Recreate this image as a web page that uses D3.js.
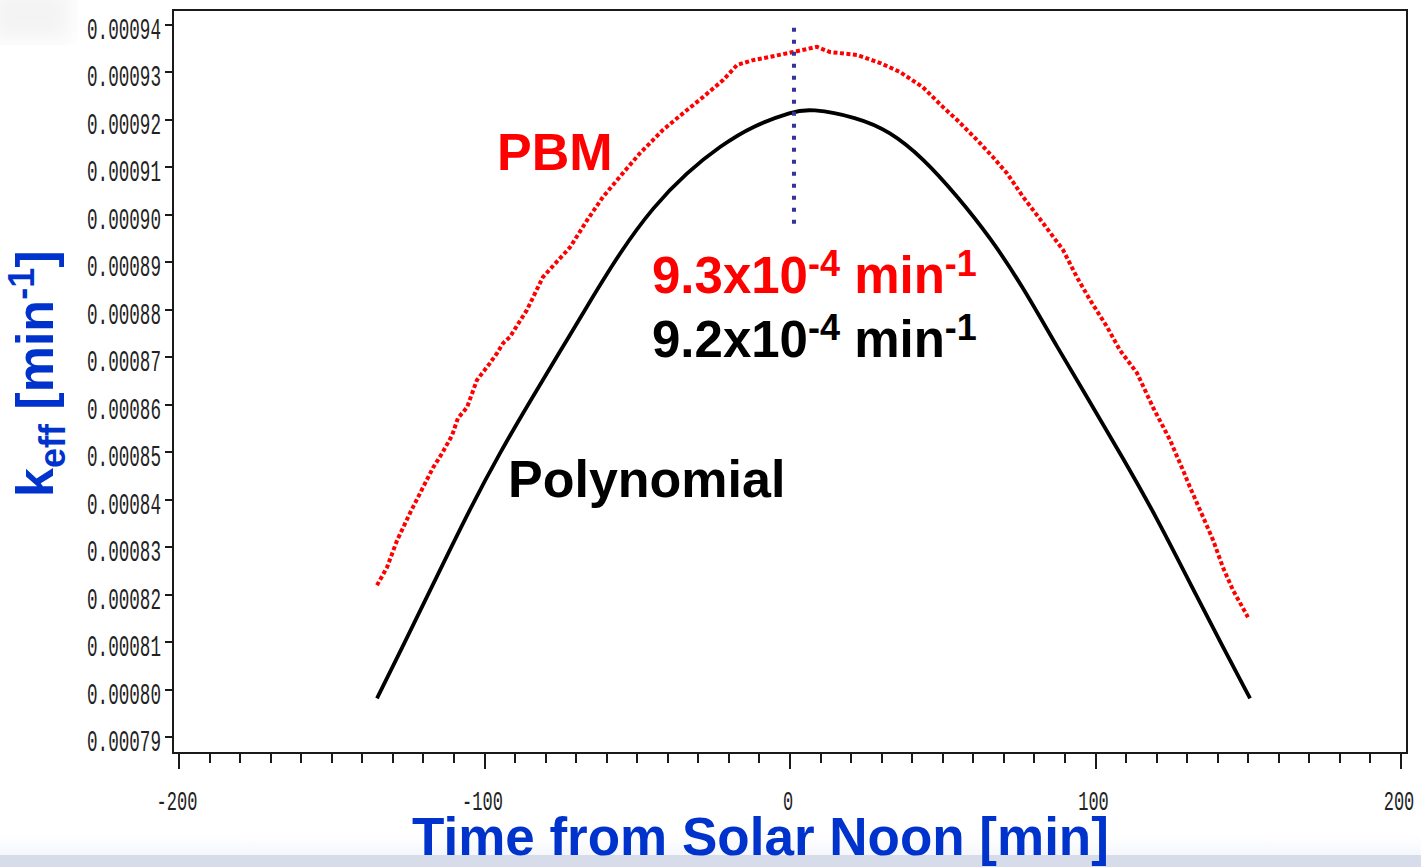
<!DOCTYPE html>
<html>
<head>
<meta charset="utf-8">
<script src="https://cdn.jsdelivr.net/npm/d3@7"></script>
<style>
  html, body { margin: 0; padding: 0; background: #ffffff; }
  svg { display: block; }
</style>
</head>
<body>
<div id="chart"></div>
<script>
// ---------------- DATA ----------------
const xTickValues = [-200, -100, 0, 100, 200];
const xTickLabels = ["-200", "-100", "0", "100", "200"];
const xMinorTicks = d3.range(-200, 201, 10);
const yTickValues = [0.00079, 0.00080, 0.00081, 0.00082, 0.00083, 0.00084, 0.00085, 0.00086,
                     0.00087, 0.00088, 0.00089, 0.00090, 0.00091, 0.00092, 0.00093, 0.00094];
const yTickLabels = ["0.00079", "0.00080", "0.00081", "0.00082", "0.00083", "0.00084", "0.00085", "0.00086",
                     "0.00087", "0.00088", "0.00089", "0.00090", "0.00091", "0.00092", "0.00093", "0.00094"];

// Polynomial fit (black line)
const polyTime = [-135.2, -126.7, -115.5, -104.7, -94.9, -85.1, -75.3, -66.4, -55.6, -44.8, -33.7,
                  -22.9, -12.1, 1.0, 6.5, 21.9, 32.7, 43.5, 54.7, 65.5, 76.3, 87.4, 98.2, 109.0,
                  120.1, 130.9, 141.7, 150.6];
const polyK = [0.0007982, 0.0008092, 0.0008240, 0.0008382, 0.0008500, 0.0008608, 0.0008712, 0.0008808,
               0.0008922, 0.0009017, 0.0009090, 0.0009145, 0.0009188, 0.0009218, 0.0009224, 0.0009206,
               0.0009176, 0.0009120, 0.0009040, 0.0008953, 0.0008848, 0.0008722, 0.0008606, 0.0008488,
               0.0008362, 0.0008225, 0.0008090, 0.0007982];

// PBM model (red dots)
const pbmTime = [-135.2, -131.9, -128.6, -124.4, -121.1, -116.9, -113.9, -110.6, -108.7, -105.7, -102.5,
                 -98.2, -95.9, -93.9, -91.7, -86.1, -80.9, -72.0, -66.4, -61.2, -54.7, -49.1, -41.6,
                 -33.7, -28.5, -21.9, -17.3, -12.1, -6.5, 1.0, 8.8, 13.1, 21.9, 29.5, 36.0, 43.5, 50.1,
                 54.7, 61.2, 66.4, 71.0, 76.3, 82.8, 89.4, 93.9, 98.2, 103.8, 108.0, 113.6, 118.8,
                 124.4, 128.6, 130.9, 135.2, 138.5, 141.7, 145.0, 149.9];
const pbmK = [0.0008220, 0.0008258, 0.0008315, 0.0008372, 0.0008414, 0.0008467, 0.0008498, 0.0008536,
              0.0008572, 0.0008595, 0.0008652, 0.0008688, 0.0008709, 0.0008730, 0.0008743, 0.0008800,
              0.0008869, 0.0008932, 0.0008989, 0.0009038, 0.0009088, 0.0009130, 0.0009179, 0.0009221,
              0.0009248, 0.0009284, 0.0009316, 0.0009326, 0.0009333, 0.0009343, 0.0009354, 0.0009343,
              0.0009337, 0.0009320, 0.0009301, 0.0009269, 0.0009227, 0.0009200, 0.0009158, 0.0009122,
              0.0009088, 0.0009038, 0.0008983, 0.0008926, 0.0008869, 0.0008821, 0.0008764, 0.0008715,
              0.0008667, 0.0008595, 0.0008526, 0.0008463, 0.0008427, 0.0008364, 0.0008315, 0.0008258,
              0.0008210, 0.0008153];

// Solar-noon marker (blue dotted line)
const markerTime = [1.3, 1.3];
const markerK = [0.0009394, 0.0008981];

// ---------------- LAYOUT ----------------
const W = 1421, H = 867;
const frame = { left: 173, right: 1407, top: 10, bottom: 753 };

const svg = d3.select("#chart").append("svg")
  .attr("width", W).attr("height", H)
  .attr("viewBox", `0 0 ${W} ${H}`);

const defs = svg.append("defs");
defs.append("filter").attr("id", "blur").append("feGaussianBlur").attr("stdDeviation", 10);
const grad = defs.append("linearGradient").attr("id", "band").attr("x1", 0).attr("x2", 0).attr("y1", 0).attr("y2", 1);
grad.append("stop").attr("offset", "0%").attr("stop-color", "#ffffff");
grad.append("stop").attr("offset", "100%").attr("stop-color", "#f5f7fb");

// background pieces
svg.append("rect").attr("x", 0).attr("y", 0).attr("width", W).attr("height", H).attr("fill", "#ffffff");
svg.append("rect").attr("x", -10).attr("y", -10).attr("width", 80).attr("height", 50)
  .attr("fill", "#ececec").attr("opacity", 0.6).attr("filter", "url(#blur)");
svg.append("rect").attr("x", 0).attr("y", 835).attr("width", W).attr("height", 20).attr("fill", "url(#band)");
svg.append("rect").attr("x", 0).attr("y", 855).attr("width", W).attr("height", 12).attr("fill", "#d6dcea");

const x = d3.scaleLinear().domain([-200, 200]).range([179, 1401]);
const y = d3.scaleLinear().domain([0.00079, 0.00094]).range([737.3, 25]);

// frame
svg.append("rect")
  .attr("x", frame.left).attr("y", frame.top)
  .attr("width", frame.right - frame.left).attr("height", frame.bottom - frame.top)
  .attr("fill", "none").attr("stroke", "#1a1a1a").attr("stroke-width", 2);

const tickFont = "'Liberation Mono', 'DejaVu Sans Mono', monospace";

// Y axis ticks & labels
const yAxis = svg.append("g");
yTickValues.forEach((v, i) => {
  const yy = Math.round(y(v));
  yAxis.append("line").attr("x1", frame.left - 8).attr("x2", frame.left)
    .attr("y1", yy).attr("y2", yy).attr("stroke", "#1a1a1a").attr("stroke-width", 2);
  yAxis.append("text")
    .attr("x", 87).attr("y", yy + 14)
    .attr("font-family", tickFont).attr("font-size", 29)
    .attr("textLength", 74).attr("lengthAdjust", "spacingAndGlyphs")
    .attr("fill", "#222").text(yTickLabels[i]);
});

// X axis ticks & labels
const xAxis = svg.append("g");
xMinorTicks.forEach(v => {
  const major = xTickValues.includes(v);
  const xx = Math.round(x(v));
  xAxis.append("line").attr("x1", xx).attr("x2", xx)
    .attr("y1", frame.bottom).attr("y2", frame.bottom + (major ? 16 : 10))
    .attr("stroke", "#1a1a1a").attr("stroke-width", 2);
});
xTickValues.forEach((v, i) => {
  const lab = xTickLabels[i];
  xAxis.append("text")
    .attr("x", x(v) - 2).attr("y", 810)
    .attr("text-anchor", "middle")
    .attr("font-family", tickFont).attr("font-size", 28)
    .attr("textLength", lab.length * 10.2).attr("lengthAdjust", "spacingAndGlyphs")
    .attr("fill", "#222").text(lab);
});

// Polynomial line
const polyData = polyTime.map((t, i) => [t, polyK[i]]);
svg.append("path")
  .datum(polyData)
  .attr("fill", "none").attr("stroke", "#000").attr("stroke-width", 3.8)
  .attr("stroke-linejoin", "round")
  .attr("d", d3.line().x(d => x(d[0])).y(d => y(d[1])).curve(d3.curveBasis));

// PBM dotted series
const pbmData = pbmTime.map((t, i) => [t, pbmK[i]]);
svg.append("path")
  .datum(pbmData)
  .attr("fill", "none").attr("stroke", "#ff0000").attr("stroke-width", 4)
  .attr("stroke-dasharray", "4 2.5")
  .attr("d", d3.line().x(d => x(d[0])).y(d => y(d[1])).curve(d3.curveLinear));

// Solar noon marker
svg.append("line")
  .attr("x1", x(markerTime[0])).attr("x2", x(markerTime[1]))
  .attr("y1", y(markerK[0])).attr("y2", y(markerK[1]))
  .attr("stroke", "#333399").attr("stroke-width", 4).attr("stroke-dasharray", "4 8");

// Annotations
const bold = "'Liberation Sans', Arial, Helvetica, sans-serif";
svg.append("text").attr("x", 497).attr("y", 170)
  .attr("font-family", bold).attr("font-weight", "bold").attr("font-size", 52)
  .attr("fill", "#ff0000").text("PBM");

svg.append("text").attr("x", 508).attr("y", 497)
  .attr("font-family", bold).attr("font-weight", "bold").attr("font-size", 52)
  .attr("fill", "#000").text("Polynomial");

function rateLabel(xp, yp, main, color) {
  const t = svg.append("text").attr("x", xp).attr("y", yp)
    .attr("font-family", bold).attr("font-weight", "bold").attr("font-size", 51)
    .attr("fill", color);
  t.append("tspan").text(main);
  t.append("tspan").attr("font-size", 36).attr("dy", -17).text("-4");
  t.append("tspan").attr("dy", 17).text(" min");
  t.append("tspan").attr("font-size", 36).attr("dy", -17).text("-1");
}
rateLabel(652, 293, "9.3x10", "#ff0000");
rateLabel(652, 357, "9.2x10", "#000000");

// Axis titles
const blue = "#0033cc";
svg.append("text").attr("x", 412).attr("y", 855)
  .attr("font-family", bold).attr("font-weight", "bold").attr("font-size", 53)
  .attr("fill", blue).text("Time from Solar Noon [min]");

const yt = svg.append("text")
  .attr("transform", "translate(53,497) rotate(-90)")
  .attr("font-family", bold).attr("font-weight", "bold").attr("font-size", 52)
  .attr("fill", blue);
yt.append("tspan").text("k");
yt.append("tspan").attr("font-size", 36).attr("dy", 12).text("eff");
yt.append("tspan").attr("dy", -12).text(" [min");
yt.append("tspan").attr("font-size", 36).attr("dy", -19).text("-1");
yt.append("tspan").attr("dy", 19).text("]");
</script>
</body>
</html>
